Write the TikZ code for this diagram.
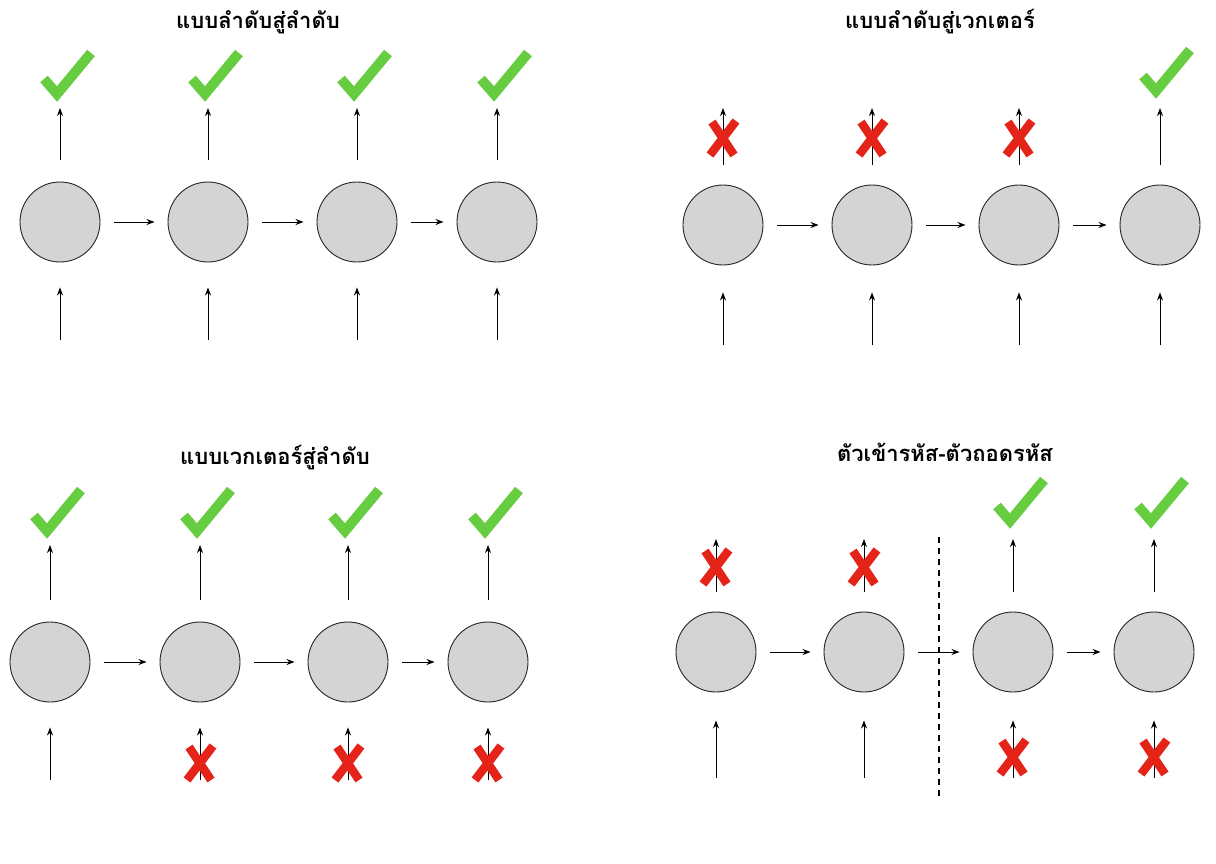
\documentclass[tikz,border=0pt]{standalone}
\usepackage{fontspec}
\newfontfamily\thaifont[Script=Thai]{Loma}
\usepackage{tikz}
\usetikzlibrary{arrows.meta}

\definecolor{cellgray}{RGB}{212,212,212}
\definecolor{goodgreen}{RGB}{102,204,64}
\definecolor{badred}{RGB}{228,36,24}

% marks drawn around a named point
\newcommand{\goodmark}[1]{\draw[good_style] ([shift={(-22,4)}]#1) -- ([shift={(-9,19)}]#1) -- ([shift={(25,-22)}]#1);}
\newcommand{\badmark}[1]{\draw[bad_style] ([shift={(-11,-16)}]#1) -- ([shift={(11,17)}]#1) ([shift={(13,-17)}]#1) -- ([shift={(-13,17)}]#1);}

\begin{document}
\begin{tikzpicture}[x=1pt, y=-1pt,
   cell_style/.style={circle, draw=black!85, fill=cellgray, line width=0.9pt, minimum size=80pt, inner sep=0pt},
   flow_style/.style={draw=black, line width=1pt, -{Stealth[length=8pt, width=6pt]}},
   good_style/.style={draw=goodgreen, line width=10pt},
   bad_style/.style={draw=badred, line width=8.5pt},
   title_style/.style={font=\thaifont\bfseries\fontsize{22}{26}\selectfont}]
	\useasboundingbox (0,0) rectangle (1216,864);

	% sequence to sequence
	\node [title_style] (a_title) at (258,22) {แบบลำดับสู่ลำดับ};
	\foreach \i/\x in {1/60, 2/208, 3/357, 4/497} {
		\node [cell_style] (a\i) at (\x,222) {};
		\coordinate (a\i_out) at (\x,108);
		\coordinate (a\i_in) at (\x,340);
		\coordinate (a\i_mark) at (\x+6,75);
		\draw [flow_style, shorten <=22pt] (a\i) -- (a\i_out);
		\draw [flow_style, shorten >=25pt] (a\i_in) -- (a\i);
		\goodmark{a\i_mark}
	}
	\foreach \from/\to in {1/2, 2/3, 3/4}
		\draw [flow_style, shorten <=14pt, shorten >=13pt] (a\from) -- (a\to);

	% sequence to vector
	\node [title_style] (b_title) at (940,22) {แบบลำดับสู่เวกเตอร์};
	\foreach \i/\x in {1/723, 2/872, 3/1019, 4/1160} {
		\node [cell_style] (b\i) at (\x,225) {};
		\coordinate (b\i_out) at (\x,108);
		\coordinate (b\i_in) at (\x,345);
		\draw [flow_style, shorten <=20pt] (b\i) -- (b\i_out);
		\draw [flow_style, shorten >=27pt] (b\i_in) -- (b\i);
	}
	\foreach \i/\x in {1/723, 2/872, 3/1019} {
		\coordinate (b\i_mark) at (\x,138);
		\badmark{b\i_mark}
	}
	\coordinate (b4_mark) at (1165,72);
	\goodmark{b4_mark}
	\foreach \from/\to in {1/2, 2/3, 3/4}
		\draw [flow_style, shorten <=14pt, shorten >=13pt] (b\from) -- (b\to);

	% vector to sequence
	\node [title_style] (c_title) at (275,458) {แบบเวกเตอร์สู่ลำดับ};
	\foreach \i/\x in {1/50, 2/200, 3/348, 4/488} {
		\node [cell_style] (c\i) at (\x,662) {};
		\coordinate (c\i_out) at (\x,545);
		\coordinate (c\i_in) at (\x,780);
		\coordinate (c\i_mark) at (\x+6,512);
		\draw [flow_style, shorten <=22pt] (c\i) -- (c\i_out);
		\draw [flow_style, shorten >=25pt] (c\i_in) -- (c\i);
		\goodmark{c\i_mark}
	}
	\foreach \i/\x in {2/200, 3/348, 4/488} {
		\coordinate (c\i_bad) at (\x,763);
		\badmark{c\i_bad}
	}
	\foreach \from/\to in {1/2, 2/3, 3/4}
		\draw [flow_style, shorten <=14pt, shorten >=13pt] (c\from) -- (c\to);

	% encoder-decoder
	\node [title_style] (d_title) at (945,452) {ตัวเข้ารหัส-ตัวถอดรหัส};
	\foreach \i/\x in {1/716, 2/864, 3/1013, 4/1154} {
		\node [cell_style] (d\i) at (\x,652) {};
		\coordinate (d\i_out) at (\x,539);
		\coordinate (d\i_in) at (\x,778);
		\draw [flow_style, shorten <=20pt] (d\i) -- (d\i_out);
		\draw [flow_style, shorten >=28pt] (d\i_in) -- (d\i);
	}
	\foreach \i/\x in {1/716, 2/864} {
		\coordinate (d\i_mark) at (\x,567);
		\badmark{d\i_mark}
	}
	\foreach \i/\x in {3/1013, 4/1154} {
		\coordinate (d\i_mark) at (\x+6,502);
		\goodmark{d\i_mark}
		\coordinate (d\i_bad) at (\x,757);
		\badmark{d\i_bad}
	}
	\foreach \from/\to in {1/2, 2/3, 3/4}
		\draw [flow_style, shorten <=14pt, shorten >=13pt] (d\from) -- (d\to);
	\coordinate (d_split_top) at (939,537);
	\coordinate (d_split_bottom) at (939,796);
	\draw [line width=2.5pt, dash pattern=on 6pt off 5pt] (d_split_top) -- (d_split_bottom);

\end{tikzpicture}
\end{document}
